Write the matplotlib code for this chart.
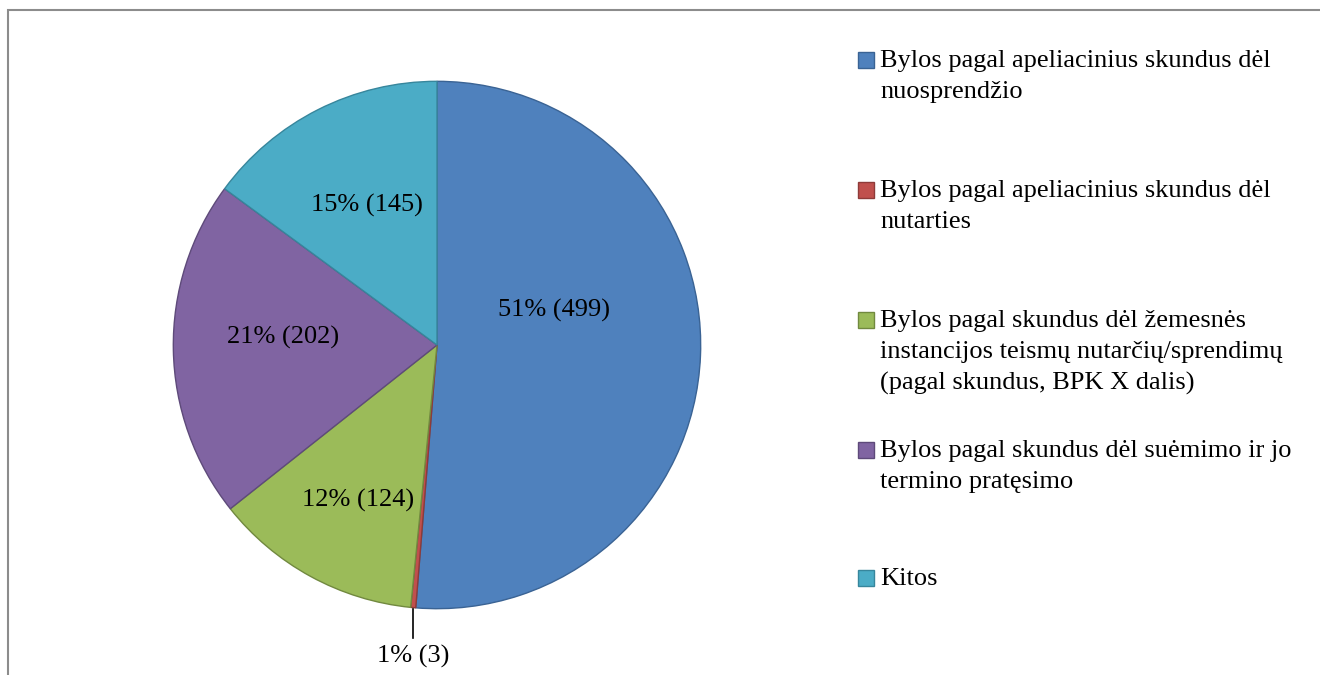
import matplotlib
matplotlib.use('Agg')
from matplotlib import pyplot as plt
from matplotlib.patches import Rectangle

plt.rcParams['font.family'] = ['Liberation Serif', 'DejaVu Serif']

# duomenys
labels = ['Bylos pagal apeliacinius skundus dėl\nnuosprendžio',
          'Bylos pagal apeliacinius skundus dėl\nnutarties',
          'Bylos pagal skundus dėl žemesnės\ninstancijos teismų nutarčių/sprendimų\n(pagal skundus, BPK X dalis)',
          'Bylos pagal skundus dėl suėmimo ir jo\ntermino pratęsimo',
          'Kitos']
counts = [499, 3, 124, 202, 145]
percents = [51, 1, 12, 21, 15]

colors = ['#4F81BD', '#C0504D', '#9BBB59', '#8064A2', '#4BACC6']
edges = ['#3A6394', '#8E3B39', '#71893F', '#5E4A7A', '#37869C']
# etikečių vietos (ašies koordinatėmis)
label_pos = [(0.445, 0.13), (-0.09, -1.18), (-0.30, -0.59), (-0.585, 0.03), (-0.265, 0.53)]

fig = plt.figure(figsize=(13.2, 6.75), dpi=100)
fig.patches.append(Rectangle((8 / 1320, -0.1), 1.2, (675 - 10) / 675 + 0.1,
                             transform=fig.transFigure, fill=False,
                             edgecolor='#8C8C8C', linewidth=1.5))

cx, cy, r = 437, 345, 265
ax = fig.add_axes([(cx - r) / 1320, (675 - cy - r) / 675, 2 * r / 1320, 2 * r / 675])
wedges, _ = ax.pie(counts, colors=colors, startangle=90, counterclock=False,
                   radius=1, wedgeprops=dict(linewidth=1))
for w, ec in zip(wedges, edges):
    w.set_edgecolor(ec)
ax.set_xlim(-1.005, 1.005)
ax.set_ylim(-1.005, 1.005)
ax.set_clip_on(False)

for (x, y), p, c in zip(label_pos, percents, counts):
    ax.text(x, y, f'{p}% ({c})', ha='center', va='center', fontsize=19, clip_on=False)
# linija mažiausiai daliai
ax.plot([-0.09, -0.09], [-1.0, -1.11], color='black', linewidth=1.2, clip_on=False)

# legenda
tops = [60, 190, 320, 450, 578]
for col, ec, lab, ty in zip(colors, edges, labels, tops):
    fig.patches.append(Rectangle((858 / 1320, 1 - (ty + 8) / 675), 16 / 1320, 16 / 675,
                                 transform=fig.transFigure, facecolor=col,
                                 edgecolor=ec, linewidth=1))
    fig.text(880 / 1320, 1 - (ty - 10) / 675, lab, fontsize=19, va='top', ha='left',
             linespacing=1.52)

fig.savefig('out.png', dpi=100)
